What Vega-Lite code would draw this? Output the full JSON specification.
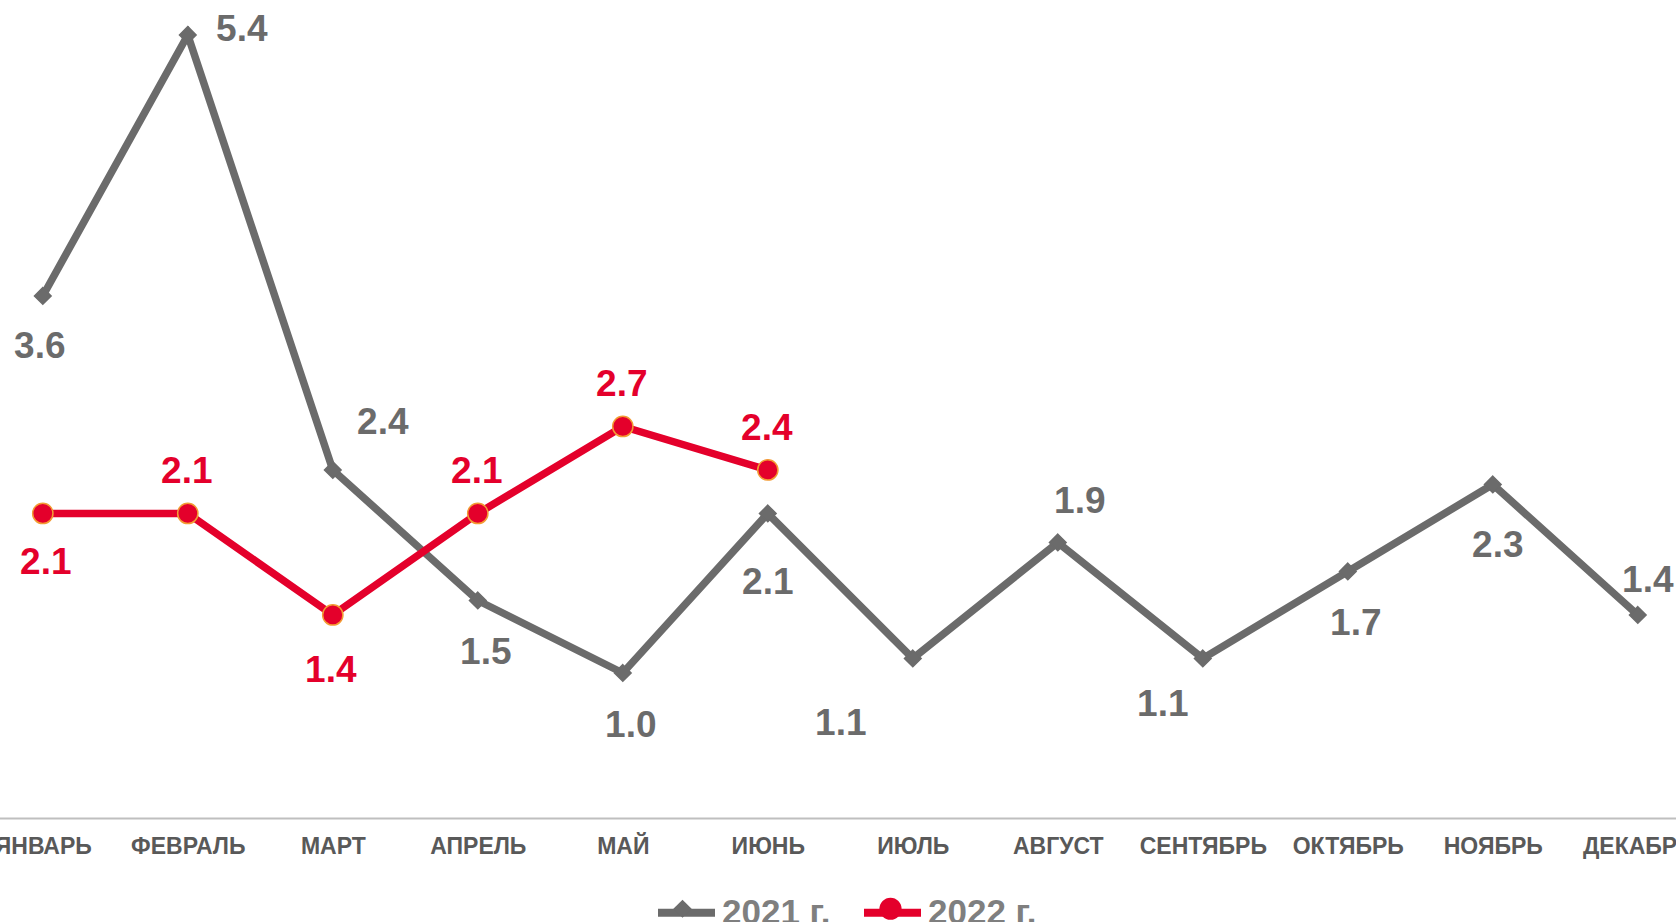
{
  "$schema": "https://vega.github.io/schema/vega-lite/v6.json",
  "width": 1676,
  "height": 818,
  "autosize": {"type": "none"},
  "padding": {"left": 0, "top": 0, "right": 0, "bottom": 104},
  "background": "white",
  "config": {"view": {"stroke": null}, "font": "Liberation Sans"},
  "data": {
    "values": [
      {"month": "ЯНВАРЬ", "series": "2021 г.", "value": 3.6},
      {"month": "ФЕВРАЛЬ", "series": "2021 г.", "value": 5.4},
      {"month": "МАРТ", "series": "2021 г.", "value": 2.4},
      {"month": "АПРЕЛЬ", "series": "2021 г.", "value": 1.5},
      {"month": "МАЙ", "series": "2021 г.", "value": 1.0},
      {"month": "ИЮНЬ", "series": "2021 г.", "value": 2.1},
      {"month": "ИЮЛЬ", "series": "2021 г.", "value": 1.1},
      {"month": "АВГУСТ", "series": "2021 г.", "value": 1.9},
      {"month": "СЕНТЯБРЬ", "series": "2021 г.", "value": 1.1},
      {"month": "ОКТЯБРЬ", "series": "2021 г.", "value": 1.7},
      {"month": "НОЯБРЬ", "series": "2021 г.", "value": 2.3},
      {"month": "ДЕКАБРЬ", "series": "2021 г.", "value": 1.4},
      {"month": "ЯНВАРЬ", "series": "2022 г.", "value": 2.1},
      {"month": "ФЕВРАЛЬ", "series": "2022 г.", "value": 2.1},
      {"month": "МАРТ", "series": "2022 г.", "value": 1.4},
      {"month": "АПРЕЛЬ", "series": "2022 г.", "value": 2.1},
      {"month": "МАЙ", "series": "2022 г.", "value": 2.7},
      {"month": "ИЮНЬ", "series": "2022 г.", "value": 2.4}
    ]
  },
  "encoding": {
    "x": {
      "field": "month",
      "type": "ordinal",
      "sort": ["ЯНВАРЬ", "ФЕВРАЛЬ", "МАРТ", "АПРЕЛЬ", "МАЙ", "ИЮНЬ", "ИЮЛЬ", "АВГУСТ", "СЕНТЯБРЬ", "ОКТЯБРЬ", "НОЯБРЬ", "ДЕКАБРЬ"],
      "scale": {"type": "point", "range": [-29.7, 1710.3], "padding": 0.5},
      "axis": {
        "title": null,
        "ticks": false,
        "grid": false,
        "domainColor": "#bfbfbf",
        "domainWidth": 2,
        "labelFont": "Liberation Sans",
        "labelFontWeight": "bold",
        "labelFontSize": 23,
        "labelColor": "#595959",
        "labelPadding": 17,
        "labelOverlap": false,
        "labelBound": false,
        "labelFlush": false,
        "labelAngle": 0
      }
    },
    "y": {
      "field": "value",
      "type": "quantitative",
      "scale": {"domain": [0, 5.641], "nice": false, "zero": true},
      "axis": null
    }
  },
  "layer": [
    {
      "mark": {"type": "line", "strokeWidth": 7.5, "strokeJoin": "miter"},
      "encoding": {
        "stroke": {
          "field": "series",
          "type": "nominal",
          "scale": {"range": ["#6b6b6b", "#e4002b"]},
          "legend": {
            "orient": "none",
            "legendX": 654,
            "legendY": 880,
            "direction": "horizontal",
            "title": null,
            "symbolType": "M-1,0H1",
            "symbolSize": 3249,
            "symbolStrokeWidth": 8,
            "labelFontSize": 35,
            "labelFont": "Liberation Sans",
            "labelFontWeight": "bold",
            "labelColor": "#7f7f7f",
            "labelOffset": 3,
            "columnPadding": 17,
            "padding": 0,
            "zindex": 1
          }
        }
      }
    },
    {
      "mark": {"type": "point", "filled": true, "size": 2700, "opacity": 1, "strokeWidth": 1.5},
      "encoding": {
        "shape": {
          "field": "series",
          "type": "nominal",
          "scale": {
            "domain": ["2021 г.", "2022 г."],
            "range": ["M0,-0.32L0.32,0L0,0.32L-0.32,0Z", "M0.39,0A0.39,0.39,0,1,1,-0.39,0A0.39,0.39,0,1,1,0.39,0Z"]
          },
          "legend": {
            "orient": "none",
            "legendX": 654,
            "legendY": 880,
            "direction": "horizontal",
            "title": null,
            "symbolSize": 3249,
            "symbolStrokeWidth": 0,
            "symbolOpacity": 1,
            "labelFontSize": 35,
            "labelFont": "Liberation Sans",
            "labelFontWeight": "bold",
            "labelOpacity": 0,
            "labelOffset": 3,
            "columnPadding": 39,
            "padding": 0,
            "zindex": 2
          }
        },
        "fill": {
          "field": "series",
          "type": "nominal",
          "scale": {"domain": ["2021 г.", "2022 г."], "range": ["#6b6b6b", "#e4002b"]},
          "legend": {
            "orient": "none",
            "legendX": 654,
            "legendY": 880,
            "direction": "horizontal",
            "title": null,
            "symbolSize": 3249,
            "symbolStrokeWidth": 0,
            "symbolOpacity": 1,
            "labelFontSize": 35,
            "labelFont": "Liberation Sans",
            "labelFontWeight": "bold",
            "labelOpacity": 0,
            "labelOffset": 3,
            "columnPadding": 39,
            "padding": 0,
            "zindex": 2
          }
        },
        "stroke": {
          "condition": {"test": "datum.series === '2022 г.'", "value": "#f39c34"},
          "value": "#6b6b6b"
        }
      }
    },
    {
      "transform": [{"filter": "datum.series === '2021 г.'"}, {"filter": {"field": "month", "oneOf": ["ЯНВАРЬ"]}}],
      "mark": {"type": "text", "dx": -3, "dy": 51, "fontSize": 37, "fontWeight": "bold", "color": "#6b6b6b", "baseline": "middle"},
      "encoding": {"text": {"field": "value", "type": "quantitative", "format": ".1f"}}
    },
    {
      "transform": [{"filter": "datum.series === '2021 г.'"}, {"filter": {"field": "month", "oneOf": ["АПРЕЛЬ", "МАЙ", "ОКТЯБРЬ"]}}],
      "mark": {"type": "text", "dx": 8, "dy": 53, "fontSize": 37, "fontWeight": "bold", "color": "#6b6b6b", "baseline": "middle"},
      "encoding": {"text": {"field": "value", "type": "quantitative", "format": ".1f"}}
    },
    {
      "transform": [{"filter": "datum.series === '2021 г.'"}, {"filter": {"field": "month", "oneOf": ["ИЮНЬ"]}}],
      "mark": {"type": "text", "dx": 0, "dy": 70, "fontSize": 37, "fontWeight": "bold", "color": "#6b6b6b", "baseline": "middle"},
      "encoding": {"text": {"field": "value", "type": "quantitative", "format": ".1f"}}
    },
    {
      "transform": [{"filter": "datum.series === '2021 г.'"}, {"filter": {"field": "month", "oneOf": ["НОЯБРЬ"]}}],
      "mark": {"type": "text", "dx": 5, "dy": 62, "fontSize": 37, "fontWeight": "bold", "color": "#6b6b6b", "baseline": "middle"},
      "encoding": {"text": {"field": "value", "type": "quantitative", "format": ".1f"}}
    },
    {
      "transform": [{"filter": "datum.series === '2021 г.'"}, {"filter": {"field": "month", "oneOf": ["ФЕВРАЛЬ"]}}],
      "mark": {"type": "text", "dx": 54, "dy": -5, "fontSize": 37, "fontWeight": "bold", "color": "#6b6b6b", "baseline": "middle"},
      "encoding": {"text": {"field": "value", "type": "quantitative", "format": ".1f"}}
    },
    {
      "transform": [{"filter": "datum.series === '2021 г.'"}, {"filter": {"field": "month", "oneOf": ["МАРТ"]}}],
      "mark": {"type": "text", "dx": 50, "dy": -47, "fontSize": 37, "fontWeight": "bold", "color": "#6b6b6b", "baseline": "middle"},
      "encoding": {"text": {"field": "value", "type": "quantitative", "format": ".1f"}}
    },
    {
      "transform": [{"filter": "datum.series === '2021 г.'"}, {"filter": {"field": "month", "oneOf": ["ИЮЛЬ"]}}],
      "mark": {"type": "text", "dx": -72, "dy": 66, "fontSize": 37, "fontWeight": "bold", "color": "#6b6b6b", "baseline": "middle"},
      "encoding": {"text": {"field": "value", "type": "quantitative", "format": ".1f"}}
    },
    {
      "transform": [{"filter": "datum.series === '2021 г.'"}, {"filter": {"field": "month", "oneOf": ["АВГУСТ"]}}],
      "mark": {"type": "text", "dx": 22, "dy": -40, "fontSize": 37, "fontWeight": "bold", "color": "#6b6b6b", "baseline": "middle"},
      "encoding": {"text": {"field": "value", "type": "quantitative", "format": ".1f"}}
    },
    {
      "transform": [{"filter": "datum.series === '2021 г.'"}, {"filter": {"field": "month", "oneOf": ["СЕНТЯБРЬ"]}}],
      "mark": {"type": "text", "dx": -40, "dy": 47, "fontSize": 37, "fontWeight": "bold", "color": "#6b6b6b", "baseline": "middle"},
      "encoding": {"text": {"field": "value", "type": "quantitative", "format": ".1f"}}
    },
    {
      "transform": [{"filter": "datum.series === '2021 г.'"}, {"filter": {"field": "month", "oneOf": ["ДЕКАБРЬ"]}}],
      "mark": {"type": "text", "dx": 10, "dy": -34, "fontSize": 37, "fontWeight": "bold", "color": "#6b6b6b", "baseline": "middle"},
      "encoding": {"text": {"field": "value", "type": "quantitative", "format": ".1f"}}
    },
    {
      "transform": [{"filter": "datum.series === '2022 г.'"}, {"filter": {"field": "month", "oneOf": ["ФЕВРАЛЬ", "АПРЕЛЬ", "МАЙ", "ИЮНЬ"]}}],
      "mark": {"type": "text", "dx": -1, "dy": -41, "fontSize": 37, "fontWeight": "bold", "color": "#e4002b", "baseline": "middle"},
      "encoding": {"text": {"field": "value", "type": "quantitative", "format": ".1f"}}
    },
    {
      "transform": [{"filter": "datum.series === '2022 г.'"}, {"filter": {"field": "month", "oneOf": ["ЯНВАРЬ"]}}],
      "mark": {"type": "text", "dx": 3, "dy": 50, "fontSize": 37, "fontWeight": "bold", "color": "#e4002b", "baseline": "middle"},
      "encoding": {"text": {"field": "value", "type": "quantitative", "format": ".1f"}}
    },
    {
      "transform": [{"filter": "datum.series === '2022 г.'"}, {"filter": {"field": "month", "oneOf": ["МАРТ"]}}],
      "mark": {"type": "text", "dx": -2, "dy": 56, "fontSize": 37, "fontWeight": "bold", "color": "#e4002b", "baseline": "middle"},
      "encoding": {"text": {"field": "value", "type": "quantitative", "format": ".1f"}}
    }
  ]
}
